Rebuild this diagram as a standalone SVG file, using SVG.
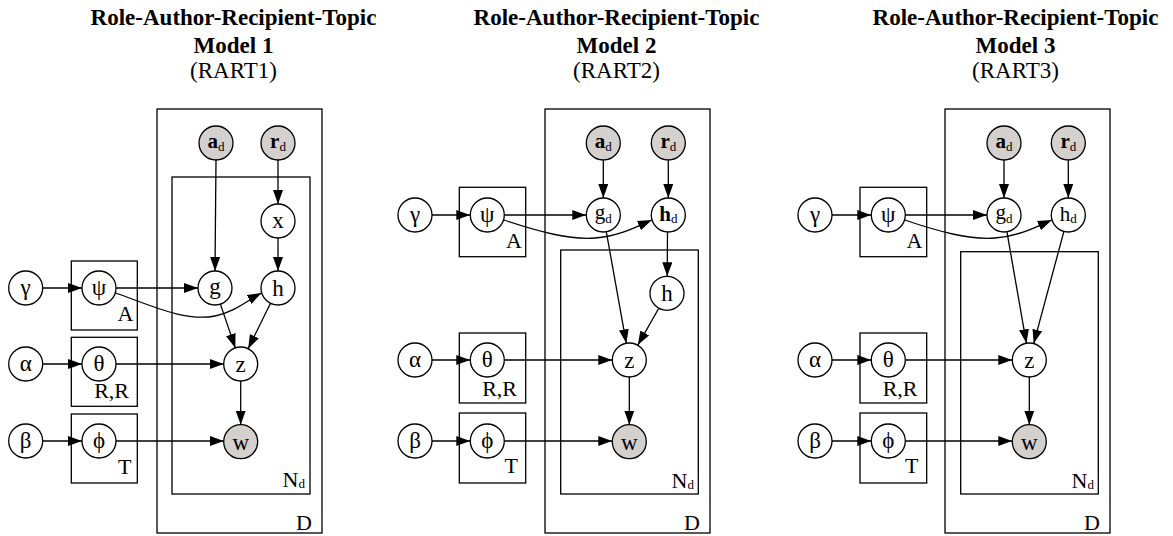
<svg xmlns="http://www.w3.org/2000/svg" width="1173" height="536" viewBox="0 0 1173 536">
<style>
  .bg{fill:#ffffff}
  .n{fill:#ffffff;stroke:#000;stroke-width:1.3}
  .o{fill:#d3d0cd;stroke:#000;stroke-width:1.3}
  .p{fill:none;stroke:#000;stroke-width:1.3}
  .e{fill:none;stroke:#000;stroke-width:1.3;marker-end:url(#ah)}
  text{font-family:"Liberation Serif","Times New Roman",serif;fill:#000}
  .l{font-size:23px;text-anchor:middle}
  .ls{font-size:21px;text-anchor:middle}
  .pl{font-size:22px;text-anchor:end}
  .t1{font-size:23px;font-weight:bold;text-anchor:middle}
  .t2{font-size:23px;text-anchor:middle}
  .b{font-weight:bold}
  .s{font-size:13px}
</style>
<defs>
  <marker id="ah" markerUnits="userSpaceOnUse" markerWidth="14" markerHeight="10" refX="14" refY="5" orient="auto">
    <path d="M0,0 L14,5 L0,10 z" fill="#000"/>
  </marker>
</defs>
<rect class="bg" x="0" y="0" width="1173" height="536"/>

<!-- Titles -->
<g id="title1">
  <text class="t1" x="233.5" y="25">Role-Author-Recipient-Topic</text>
  <text class="t1" x="233.5" y="53">Model 1</text>
  <text class="t2" x="233.5" y="78">(RART1)</text>
</g>
<g id="title2">
  <text class="t1" x="616.5" y="25">Role-Author-Recipient-Topic</text>
  <text class="t1" x="616.5" y="53">Model 2</text>
  <text class="t2" x="616.5" y="78">(RART2)</text>
</g>
<g id="title3">
  <text class="t1" x="1015.5" y="25">Role-Author-Recipient-Topic</text>
  <text class="t1" x="1015.5" y="53">Model 3</text>
  <text class="t2" x="1015.5" y="78">(RART3)</text>
</g>

<!-- ================= Panel 1 ================= -->
<g id="p1-plate-D"><rect class="p" x="157" y="109" width="165" height="424"/><text class="pl" x="312" y="530">D</text></g>
<g id="p1-plate-N"><rect class="p" x="172" y="177" width="138" height="317"/><text class="pl" x="305" y="487">N<tspan class="s" dy="1">d</tspan></text></g>
<g id="p1-plate-A"><rect class="p" x="71.3" y="261" width="66" height="69"/><text class="pl" x="133.5" y="321">A</text></g>
<g id="p1-plate-RR"><rect class="p" x="71.3" y="337.3" width="66" height="69"/><text class="pl" x="129" y="398">R,R</text></g>
<g id="p1-plate-T"><rect class="p" x="71.3" y="414" width="66" height="69"/><text class="pl" x="131.5" y="474">T</text></g>

<g id="p1-connectors">
  <line class="e" x1="42.7" y1="288" x2="82" y2="288"/>
  <line class="e" x1="42.7" y1="364" x2="82" y2="364"/>
  <line class="e" x1="42.7" y1="441" x2="82" y2="441"/>
  <line class="e" x1="116" y1="288" x2="198" y2="288"/>
  <path class="e" d="M115.5,293 C150,305 185,322 215,316 C235,312 248,300 261.5,293"/>
  <line class="e" x1="216" y1="160" x2="215" y2="271"/>
  <line class="e" x1="278" y1="160" x2="278" y2="204"/>
  <line class="e" x1="278" y1="238" x2="278" y2="271"/>
  <line class="e" x1="220.4" y1="304.1" x2="235.3" y2="347.9"/>
  <line class="e" x1="270.5" y1="303.3" x2="248.2" y2="348.7"/>
  <line class="e" x1="116" y1="364" x2="223.7" y2="364"/>
  <line class="e" x1="240.7" y1="381" x2="240.7" y2="424.7"/>
  <line class="e" x1="116" y1="441" x2="223.7" y2="441"/>
</g>

<g id="p1-gamma"><circle class="n" cx="25.7" cy="288" r="17"/><text class="l" x="25.7" y="295">γ</text></g>
<g id="p1-psi"><circle class="n" cx="99" cy="288" r="17"/><text class="l" x="99" y="295">ψ</text></g>
<g id="p1-alpha"><circle class="n" cx="25.7" cy="364" r="17"/><text class="l" x="25.7" y="371">α</text></g>
<g id="p1-theta"><circle class="n" cx="99" cy="364" r="17"/><text class="l" x="99" y="371">θ</text></g>
<g id="p1-beta"><circle class="n" cx="25.7" cy="441" r="17"/><text class="l" x="25.7" y="448">β</text></g>
<g id="p1-phi"><circle class="n" cx="99" cy="441" r="17"/><text class="l" x="99" y="448">ϕ</text></g>
<g id="p1-ad"><circle class="o" cx="216" cy="143" r="17"/><text class="ls" x="216" y="148"><tspan class="b">a</tspan><tspan class="s" dy="3">d</tspan></text></g>
<g id="p1-rd"><circle class="o" cx="278" cy="143" r="17"/><text class="ls" x="278" y="148"><tspan class="b">r</tspan><tspan class="s" dy="3">d</tspan></text></g>
<g id="p1-x"><circle class="n" cx="278" cy="221" r="17"/><text class="l" x="278" y="228">x</text></g>
<g id="p1-g"><circle class="n" cx="215" cy="288" r="17"/><text class="l" x="215" y="294">g</text></g>
<g id="p1-h"><circle class="n" cx="278" cy="288" r="17"/><text class="l" x="278" y="296">h</text></g>
<g id="p1-z"><circle class="n" cx="240.7" cy="364" r="17"/><text class="l" x="240.7" y="372">z</text></g>
<g id="p1-w"><circle class="o" cx="240.7" cy="441.7" r="17"/><text class="l" x="240.7" y="450">w</text></g>

<!-- ================= Panel 2 ================= -->
<g id="p2-plate-D"><rect class="p" x="545" y="109" width="165" height="424"/><text class="pl" x="700" y="530">D</text></g>
<g id="p2-plate-N"><rect class="p" x="560.7" y="250" width="137.6" height="244"/><text class="pl" x="694" y="488">N<tspan class="s" dy="1">d</tspan></text></g>
<g id="p2-plate-A"><rect class="p" x="459.3" y="187.3" width="66.4" height="69.4"/><text class="pl" x="522" y="248">A</text></g>
<g id="p2-plate-RR"><rect class="p" x="459.3" y="333" width="66.4" height="70"/><text class="pl" x="517" y="396">R,R</text></g>
<g id="p2-plate-T"><rect class="p" x="459.3" y="413" width="66.4" height="70"/><text class="pl" x="518" y="473">T</text></g>

<g id="p2-connectors">
  <line class="e" x1="432" y1="215" x2="470.3" y2="215"/>
  <line class="e" x1="432" y1="360" x2="470.3" y2="360"/>
  <line class="e" x1="432" y1="441" x2="470.3" y2="441"/>
  <line class="e" x1="504.3" y1="215" x2="586.3" y2="215"/>
  <path class="e" d="M503.8,220 C540,232 570,240 595,238 C620,236 638,226 651.8,220"/>
  <line class="e" x1="603.3" y1="160" x2="603.3" y2="198"/>
  <line class="e" x1="668.3" y1="160" x2="668.3" y2="198"/>
  <line class="e" x1="606.3" y1="231.7" x2="626.3" y2="343.3"/>
  <line class="e" x1="667.5" y1="232" x2="667.2" y2="276.3"/>
  <line class="e" x1="658.8" y1="308.2" x2="637.8" y2="345.1"/>
  <line class="e" x1="504.3" y1="360" x2="612.3" y2="360"/>
  <line class="e" x1="629.3" y1="377" x2="629.3" y2="424.7"/>
  <line class="e" x1="504.3" y1="441" x2="612.3" y2="441"/>
</g>

<g id="p2-gamma"><circle class="n" cx="415" cy="215" r="17"/><text class="l" x="415" y="222">γ</text></g>
<g id="p2-psi"><circle class="n" cx="487.3" cy="215" r="17"/><text class="l" x="487.3" y="222">ψ</text></g>
<g id="p2-alpha"><circle class="n" cx="415" cy="360" r="17"/><text class="l" x="415" y="367">α</text></g>
<g id="p2-theta"><circle class="n" cx="487.3" cy="360" r="17"/><text class="l" x="487.3" y="367">θ</text></g>
<g id="p2-beta"><circle class="n" cx="415" cy="441" r="17"/><text class="l" x="415" y="448">β</text></g>
<g id="p2-phi"><circle class="n" cx="487.3" cy="441" r="17"/><text class="l" x="487.3" y="448">ϕ</text></g>
<g id="p2-ad"><circle class="o" cx="603.3" cy="143" r="17"/><text class="ls" x="603.3" y="148"><tspan class="b">a</tspan><tspan class="s" dy="3">d</tspan></text></g>
<g id="p2-rd"><circle class="o" cx="668.3" cy="143" r="17"/><text class="ls" x="668.3" y="148"><tspan class="b">r</tspan><tspan class="s" dy="3">d</tspan></text></g>
<g id="p2-gd"><circle class="n" cx="603.3" cy="215" r="17"/><text class="ls" x="603.3" y="219">g<tspan class="s" dy="4">d</tspan></text></g>
<g id="p2-hd"><circle class="n" cx="668.3" cy="215" r="17"/><text class="ls" x="668.3" y="221"><tspan class="b">h</tspan><tspan class="s" dy="2">d</tspan></text></g>
<g id="p2-h"><circle class="n" cx="667" cy="293.3" r="17"/><text class="l" x="667" y="301.3">h</text></g>
<g id="p2-z"><circle class="n" cx="629.3" cy="360" r="17"/><text class="l" x="629.3" y="368">z</text></g>
<g id="p2-w"><circle class="o" cx="629.3" cy="441.7" r="17"/><text class="l" x="629.3" y="450">w</text></g>

<!-- ================= Panel 3 ================= -->
<g id="p3-plate-D"><rect class="p" x="945" y="109" width="165" height="424"/><text class="pl" x="1100" y="530">D</text></g>
<g id="p3-plate-N"><rect class="p" x="960.7" y="251.7" width="137.6" height="242.3"/><text class="pl" x="1094" y="488">N<tspan class="s" dy="1">d</tspan></text></g>
<g id="p3-plate-A"><rect class="p" x="860" y="187.3" width="66.7" height="69.4"/><text class="pl" x="922.5" y="248">A</text></g>
<g id="p3-plate-RR"><rect class="p" x="860" y="333" width="66.7" height="70"/><text class="pl" x="917.5" y="396">R,R</text></g>
<g id="p3-plate-T"><rect class="p" x="860" y="413" width="66.7" height="70"/><text class="pl" x="918.5" y="473">T</text></g>

<g id="p3-connectors">
  <line class="e" x1="832" y1="215" x2="871.3" y2="215"/>
  <line class="e" x1="832" y1="360" x2="871.3" y2="360"/>
  <line class="e" x1="832" y1="441" x2="871.3" y2="441"/>
  <line class="e" x1="905.3" y1="215" x2="987" y2="215"/>
  <path class="e" d="M904.8,220 C940,232 970,240 995,238 C1020,236 1038,226 1051.8,220"/>
  <line class="e" x1="1004" y1="160" x2="1004" y2="198"/>
  <line class="e" x1="1068.3" y1="160" x2="1068.3" y2="198"/>
  <line class="e" x1="1006.9" y1="231.7" x2="1026.4" y2="343.3"/>
  <line class="e" x1="1063.9" y1="231.4" x2="1033.7" y2="343.6"/>
  <line class="e" x1="905.3" y1="360" x2="1012.3" y2="360"/>
  <line class="e" x1="1029.3" y1="377" x2="1029.3" y2="424.7"/>
  <line class="e" x1="905.3" y1="441" x2="1012.3" y2="441"/>
</g>

<g id="p3-gamma"><circle class="n" cx="815" cy="215" r="17"/><text class="l" x="815" y="222">γ</text></g>
<g id="p3-psi"><circle class="n" cx="888.3" cy="215" r="17"/><text class="l" x="888.3" y="222">ψ</text></g>
<g id="p3-alpha"><circle class="n" cx="815" cy="360" r="17"/><text class="l" x="815" y="367">α</text></g>
<g id="p3-theta"><circle class="n" cx="888.3" cy="360" r="17"/><text class="l" x="888.3" y="367">θ</text></g>
<g id="p3-beta"><circle class="n" cx="815" cy="441" r="17"/><text class="l" x="815" y="448">β</text></g>
<g id="p3-phi"><circle class="n" cx="888.3" cy="441" r="17"/><text class="l" x="888.3" y="448">ϕ</text></g>
<g id="p3-ad"><circle class="o" cx="1004" cy="143" r="17"/><text class="ls" x="1004" y="148"><tspan class="b">a</tspan><tspan class="s" dy="3">d</tspan></text></g>
<g id="p3-rd"><circle class="o" cx="1068.3" cy="143" r="17"/><text class="ls" x="1068.3" y="148"><tspan class="b">r</tspan><tspan class="s" dy="3">d</tspan></text></g>
<g id="p3-gd"><circle class="n" cx="1004" cy="215" r="17"/><text class="ls" x="1004" y="219">g<tspan class="s" dy="4">d</tspan></text></g>
<g id="p3-hd"><circle class="n" cx="1068.3" cy="215" r="17"/><text class="ls" x="1068.3" y="221">h<tspan class="s" dy="2">d</tspan></text></g>
<g id="p3-z"><circle class="n" cx="1029.3" cy="360" r="17"/><text class="l" x="1029.3" y="368">z</text></g>
<g id="p3-w"><circle class="o" cx="1029.3" cy="441.7" r="17"/><text class="l" x="1029.3" y="450">w</text></g>
</svg>
